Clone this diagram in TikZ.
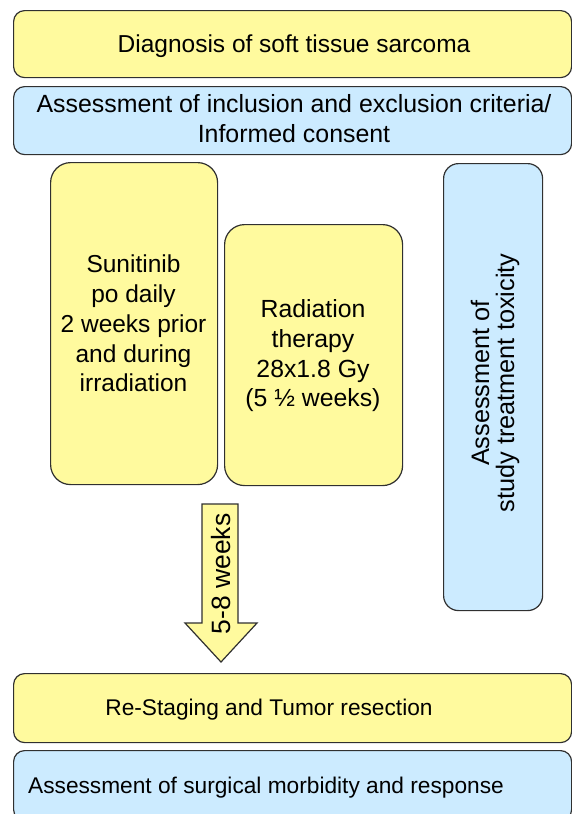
\documentclass[tikz,border=0pt]{standalone}
\usepackage{fontspec}
\setmainfont{Liberation Sans}
\definecolor{boxyellow}{HTML}{FFFA9E}
\definecolor{boxblue}{HTML}{CCEBFF}
\definecolor{edge}{HTML}{303030}
\tikzset{
  base/.style={draw=edge, line width=1.2pt, inner sep=0pt, anchor=north west, align=center},
  widebox/.style={base, rounded corners=11pt, minimum width=558pt},
  tallbox/.style={base, rounded corners=20pt},
  yel/.style={fill=boxyellow},
  blu/.style={fill=boxblue},
  txt/.style={font=\fontsize{24.5}{29.75}\selectfont, align=center, inner sep=0pt}
}
\begin{document}
\begin{tikzpicture}[x=1pt,y=-1pt]
\useasboundingbox (0,0) rectangle (572,814);
\clip (0,0) rectangle (572,814);
\fill[white] (0,0) rectangle (572,814);
% wide boxes
\node[widebox, yel, minimum height=67pt] (diag) at (13,10) {};
\node[txt, anchor=base] (diagt) at (294,52.7) {Diagnosis of soft tissue sarcoma};
\node[widebox, blu, minimum height=68pt] (incl) at (13,86) {};
\node[txt, font=\fontsize{24.9}{29.5}\selectfont] (inclt) at (294,118.8) {Assessment of inclusion and exclusion criteria/\\Informed consent};
% tall boxes
\node[tallbox, yel, minimum width=167pt, minimum height=322pt] (sun) at (50,162) {};
\node[txt] (sunt) at (133.5,323.5) {Sunitinib\\po daily\\2 weeks prior\\and during\\irradiation};
\node[tallbox, yel, minimum width=178pt, minimum height=261pt] (rad) at (224,224) {};
\node[txt, font=\fontsize{24.8}{29.7}\selectfont] (radt) at (313,356) {Radiation\\therapy\\28x1.8 Gy\\(5 ½ weeks)};
\node[base, blu, rounded corners=15pt, minimum width=99pt, minimum height=447pt] (tox) at (443,163) {};
\node[txt, font=\fontsize{25.3}{25}\selectfont, rotate=90] (toxt) at (495,383) {Assessment of\\study treatment toxicity};
% arrow
\coordinate (a1) at (202,504);
\coordinate (a2) at (238,504);
\coordinate (a3) at (238,623);
\coordinate (a4) at (257,623);
\coordinate (a5) at (221,662);
\coordinate (a6) at (185,623);
\coordinate (a7) at (202,623);
\draw[draw=edge, line width=1.2pt, fill=boxyellow, line join=miter] (a1) -- (a2) -- (a3) -- (a4) -- (a5) -- (a6) -- (a7) -- cycle;
\node[txt, font=\fontsize{26.5}{30}\selectfont, rotate=90] (weeks) at (221,574) {5-8 weeks};
% bottom boxes
\node[widebox, yel, minimum height=69pt] (res) at (13,673) {};
\node[txt, anchor=base, font=\fontsize{22.7}{30}\selectfont] (rest) at (269,715) {Re-Staging and Tumor resection};
\node[widebox, blu, minimum height=70pt] (surg) at (13,750) {};
\node[txt, anchor=base, font=\fontsize{22.7}{30}\selectfont] (surgt) at (266,793) {Assessment of surgical morbidity and response};
\end{tikzpicture}
\end{document}
